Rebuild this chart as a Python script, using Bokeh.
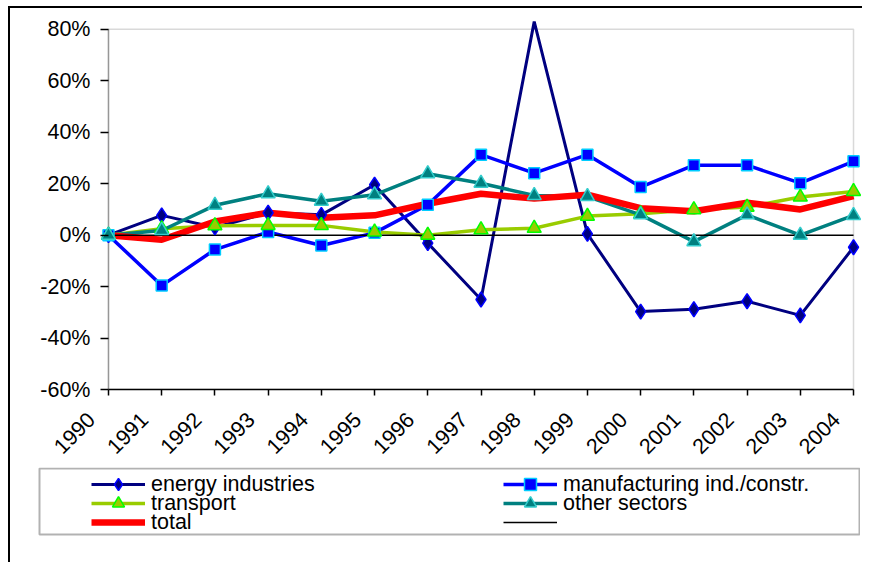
import math
from bokeh.plotting import figure
from bokeh.models import Range1d, FixedTicker, BoxAnnotation, Legend, LegendItem
from bokeh.embed import file_html
from bokeh.resources import INLINE

# ---------------- data ----------------
years = [1990, 1991, 1992, 1993, 1994, 1995, 1996, 1997, 1998, 1999, 2000, 2001, 2002, 2003, 2004]
year_labels = ["1990", "1991", "1992", "1993", "1994", "1995", "1996", "1997", "1998", "1999",
               "2000", "2001", "2002", "2003", "2004"]
energy = [0, 7.7, 3.0, 8.7, 7.9, 19.6, -3.1, -25.0, 83.0, 0.5, -29.7, -28.8, -25.7, -31.2, -4.7]
manufacturing = [0, -19.6, -5.6, 1.2, -4.0, 0.9, 11.8, 31.3, 24.1, 31.3, 18.7, 27.2, 27.2, 20.2, 28.7]
transport = [0, 2.5, 3.7, 3.8, 3.8, 1.2, 0.0, 2.1, 2.7, 7.4, 8.3, 9.9, 10.9, 14.8, 17.0]
other_sectors = [0, 1.8, 11.6, 16.1, 13.2, 15.7, 23.9, 20.2, 15.4, 15.0, 7.9, -2.5, 7.9, 0.0, 7.7]
total = [0, -1.8, 5.3, 8.7, 6.8, 7.7, 12.2, 16.1, 14.2, 15.7, 10.5, 9.3, 12.6, 10.0, 15.2]
baseline = [0, 0, 0, 0, 0, 0, 0, 0, 0, 0, 0, 0, 0, 0, 0]
y_ticks = [-60, -40, -20, 0, 20, 40, 60, 80]
y_tick_labels = ["-60%", "-40%", "-20%", "0%", "20%", "40%", "60%", "80%"]
series_names = ["energy industries", "manufacturing ind./constr.", "transport", "other sectors", "total", " "]

Y_MIN, Y_MAX = -60, 80
X_MIN, X_MAX = years[0], years[-1]

FONT = "Liberation Sans"
FS = "21.5px"
NB = "\u00a0" * 4

# styles per series: (line colour, line width, marker, marker size, fill, edge)
STY = {
    "energy": ("#000080", 3, "diamond", 15, "#000080", "#0000FF"),
    "manu": ("#0000FF", 3.5, "square", 11, "#0000FF", "#00CCFF"),
    "trans": ("#99CC00", 3.5, "triangle", 14, "#99CC00", "#00FF00"),
    "other": ("#008080", 3.5, "triangle", 14, "#008080", "#33CCCC"),
    "total": ("#FF0000", 6.5, None, 0, None, None),
    "base": ("black", 1.5, None, 0, None, None),
}
series = [("energy", energy), ("manu", manufacturing), ("trans", transport),
          ("other", other_sectors), ("total", total), ("base", baseline)]
data = dict(series)

p = figure(frame_width=761, frame_height=373,
           x_range=Range1d(X_MIN - 0.15, X_MAX + 0.15),
           y_range=Range1d(Y_MIN, 85),
           output_backend="svg", toolbar_location=None,
           min_border_left=90, min_border_right=1, min_border_top=8, min_border_bottom=78,
           outline_line_color=None, background_fill_color="white", border_fill_color="white",
           styles={"margin-left": "8px", "margin-top": "6px",
                   "border-left": "2px solid black", "border-top": "2px solid black"})
p.xgrid.visible = False
p.ygrid.visible = False

# plot-area border (grey) and left axis line
p.add_layout(BoxAnnotation(left=X_MIN, right=X_MAX, bottom=Y_MIN, top=Y_MAX,
                           fill_alpha=0, line_color="#808080", line_width=1.5, level="underlay"))
p.add_layout(BoxAnnotation(left=X_MIN, right=X_MIN, bottom=Y_MIN, top=Y_MAX,
                           fill_alpha=0, line_color="black", line_width=1.5, level="underlay"))

# y axis
ya = p.yaxis[0]
ya.ticker = FixedTicker(ticks=y_ticks)
ya.major_label_overrides = {t: l for t, l in zip(y_ticks, y_tick_labels)}
ya.bounds = (Y_MIN, Y_MAX)
ya.axis_line_color = None
ya.major_tick_in = 8
ya.major_tick_out = 0
ya.major_tick_line_color = "black"
ya.major_tick_line_width = 1.5
ya.minor_tick_line_color = None
ya.major_label_standoff = 10
ya.major_label_text_font = FONT
ya.major_label_text_font_size = FS
ya.major_label_text_color = "black"

# x axis
xa = p.xaxis[0]
xa.ticker = FixedTicker(ticks=years)
xa.major_label_overrides = {y: l + NB for y, l in zip(years, year_labels)}
xa.bounds = (X_MIN, X_MAX)
xa.axis_line_color = "black"
xa.axis_line_width = 1.5
xa.major_tick_in = 0
xa.major_tick_out = 6
xa.major_tick_line_color = "black"
xa.major_tick_line_width = 1.5
xa.minor_tick_line_color = None
xa.major_label_orientation = math.pi / 4
xa.major_label_standoff = 4
xa.major_label_text_font = FONT
xa.major_label_text_font_size = FS
xa.major_label_text_color = "black"

# lines (all lines first, then markers on top)
for key, vals in series:
    c, w = STY[key][0], STY[key][1]
    p.line(years, vals, line_color=c, line_width=w)

for key, vals in series:
    _, _, mk, ms, fc, ec = STY[key]
    if mk is None:
        continue
    xs = [x for x, v in zip(years, vals) if Y_MIN <= v <= Y_MAX]
    vs = [v for v in vals if Y_MIN <= v <= Y_MAX]
    p.scatter(xs, vs, marker=mk, size=ms, fill_color=fc, line_color=ec, line_width=1.5)

# ---------------- legend panel (separate root, pixel coordinates) ----------------
LW, LH = 852, 97
lp = figure(width=LW, height=LH, x_range=Range1d(0, LW), y_range=Range1d(0, LH),
            output_backend="svg", toolbar_location=None,
            x_axis_location=None, y_axis_location=None,
            min_border=0, outline_line_color=None, background_fill_color="white",
            border_fill_color="white",
            styles={"margin-left": "8px", "margin-top": "-3px", "border-left": "2px solid black"})
lp.grid.visible = False
lp.add_layout(BoxAnnotation(left=29, right=849, bottom=LH - 67, top=LH - 1, fill_alpha=0,
                            line_color="black", line_width=2))


def proxy(key):
    # legend proxies carry the real series; it lies outside this panel's ranges
    c, w, mk, ms, fc, ec = STY[key]
    rs = [lp.line(years, data[key], line_color=c, line_width=w)]
    if mk is not None:
        rs.append(lp.scatter(years, data[key], marker=mk, size=ms, fill_color=fc,
                             line_color=ec, line_width=1.5))
    return rs


ROWS = [LH - 17, LH - 36, LH - 55]  # row centres, measured from the panel bottom
legend_layout = [  # (series key, label index, glyph left, row)
    ("energy", 0, 81, 0), ("trans", 2, 81, 1), ("total", 4, 81, 2),
    ("manu", 1, 493, 0), ("other", 3, 493, 1), ("base", 5, 493, 2),
]
for key, li, lx, row in legend_layout:
    leg = Legend(items=[LegendItem(label=series_names[li], renderers=proxy(key))],
                 location=(lx, ROWS[row] - 15), padding=0, spacing=0, margin=0,
                 glyph_width=54, glyph_height=30, label_standoff=6, label_height=30,
                 border_line_color=None, background_fill_alpha=0,
                 label_text_font=FONT, label_text_font_size=FS, label_text_color="black",
                 label_text_line_height=1.0)
    lp.add_layout(leg)

open("out.html", "w").write(file_html([p, lp], INLINE))
